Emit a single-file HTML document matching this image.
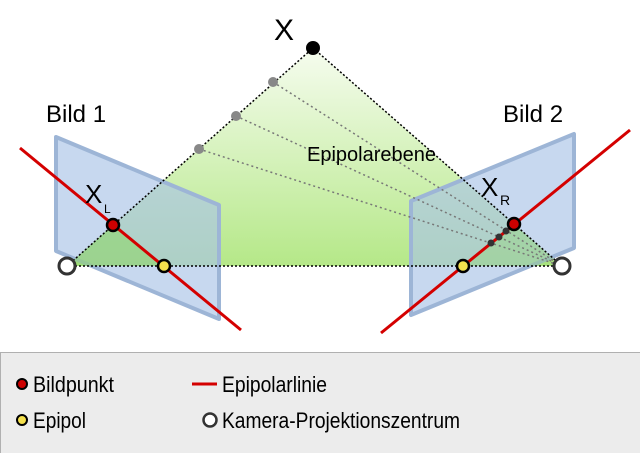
<!DOCTYPE html>
<html><head><meta charset="utf-8"><style>
html,body{margin:0;padding:0;background:#fff;width:640px;height:453px;overflow:hidden}
svg{display:block;font-family:"Liberation Sans",sans-serif}
</style></head><body>
<svg width="640" height="453" viewBox="0 0 640 453">
<defs>
<linearGradient id="g" x1="0" y1="48" x2="0" y2="266" gradientUnits="userSpaceOnUse">
<stop offset="0" stop-color="#f6fcef"/><stop offset="1" stop-color="#b5e888"/></linearGradient>
</defs>
<polygon points="313,48 67,266 562,266" fill="url(#g)"/>
<polygon points="56,137 219,205 219,319 56,251" fill="#a9c3e6" fill-opacity="0.65" stroke="#9db5d6" stroke-width="4" stroke-linejoin="round"/>
<polygon points="411,201 574,134 574,248 411,315" fill="#a9c3e6" fill-opacity="0.65" stroke="#9db5d6" stroke-width="4" stroke-linejoin="round"/>
<polygon points="113,225 67,266 164,266" fill="#8fd66a" fill-opacity="0.6"/>
<polygon points="514,224 562,266 463,266" fill="#8fd66a" fill-opacity="0.35"/>
<g stroke="#000" stroke-width="1.5" stroke-dasharray="2,2" fill="none">
<line x1="67" y1="266" x2="313" y2="48"/><line x1="313" y1="48" x2="562" y2="266"/><line x1="67" y1="266" x2="562" y2="266"/>
</g>
<g stroke="#777" stroke-width="1.5" stroke-dasharray="2,3" fill="none">
<line x1="273" y1="82" x2="562" y2="266"/><line x1="236" y1="116" x2="562" y2="266"/><line x1="199" y1="149" x2="562" y2="266"/>
</g>
<line x1="20" y1="148" x2="241" y2="330" stroke="#d40000" stroke-width="3"/>
<line x1="381" y1="333" x2="630" y2="130" stroke="#d40000" stroke-width="3"/>
<g fill="#888"><circle cx="273" cy="82" r="5"/><circle cx="236" cy="116" r="5"/><circle cx="199" cy="149" r="5"/></g>
<g fill="#333"><circle cx="506" cy="231" r="3.5"/><circle cx="499" cy="237" r="3.5"/><circle cx="491" cy="243" r="3.5"/></g>
<circle cx="313" cy="48" r="7" fill="#000"/>
<circle cx="113" cy="225" r="6" fill="#c00" stroke="#000" stroke-width="2.5"/>
<circle cx="514" cy="224" r="6" fill="#c00" stroke="#000" stroke-width="2.5"/>
<circle cx="164" cy="266" r="6" fill="#f4e04d" stroke="#000" stroke-width="2.5"/>
<circle cx="463" cy="266" r="6" fill="#f4e04d" stroke="#000" stroke-width="2.5"/>
<circle cx="67" cy="266" r="8" fill="#fff" stroke="#333" stroke-width="3"/>
<circle cx="562" cy="266" r="8" fill="#fff" stroke="#333" stroke-width="3"/>
<text x="274" y="40" font-size="30">X</text>
<text x="46" y="122" font-size="24">Bild 1</text>
<text x="503" y="122" font-size="24">Bild 2</text>
<text x="307" y="161" font-size="20">Epipolarebene</text>
<text x="85" y="203" font-size="26">X</text>
<text x="104" y="213" font-size="12">L</text>
<text x="481" y="196" font-size="26">X</text>
<text x="500" y="205" font-size="14">R</text>
<g>
<rect x="0.5" y="352.5" width="650" height="110" fill="#ececec" stroke="#b0b0b0" stroke-width="1"/>
<circle cx="22" cy="384" r="5" fill="#c00" stroke="#000" stroke-width="2"/>
<text x="33" y="392" font-size="22" textLength="81" lengthAdjust="spacingAndGlyphs">Bildpunkt</text>
<circle cx="22" cy="420" r="5" fill="#f4e04d" stroke="#000" stroke-width="2"/>
<text x="33" y="428" font-size="22" textLength="53" lengthAdjust="spacingAndGlyphs">Epipol</text>
<line x1="192" y1="384" x2="217" y2="384" stroke="#d40000" stroke-width="3"/>
<text x="222" y="392" font-size="22" textLength="105" lengthAdjust="spacingAndGlyphs">Epipolarlinie</text>
<circle cx="210" cy="420" r="6.5" fill="#fff" stroke="#333" stroke-width="2.5"/>
<text x="222" y="428" font-size="22" textLength="238" lengthAdjust="spacingAndGlyphs">Kamera-Projektionszentrum</text>
</g>
</svg>
</body></html>
